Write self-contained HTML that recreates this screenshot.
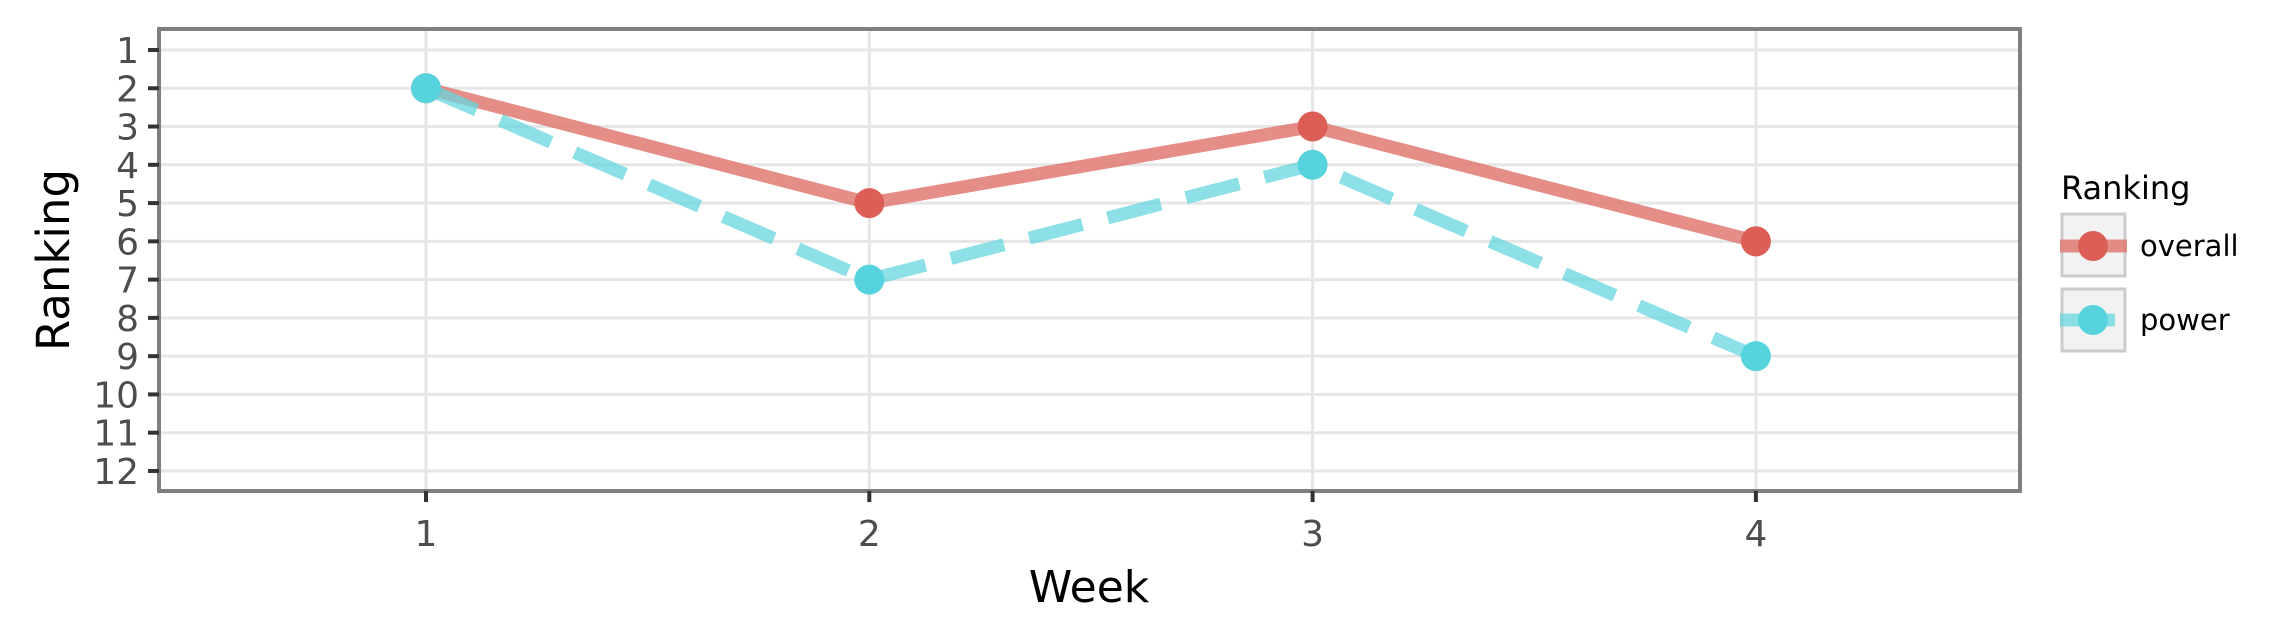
<!DOCTYPE html>
<html><head><meta charset="utf-8">
<style>
html,body{margin:0;padding:0;background:#fff;}
svg{display:block;font-family:"DejaVu Sans","Liberation Sans",sans-serif;}
</style></head>
<body>
<svg id="chart" width="2276" height="642" viewBox="0 0 2276 642" xmlns="http://www.w3.org/2000/svg">
<rect x="0" y="0" width="2276" height="642" fill="#fff"/>
<g id="grid"></g>
<g id="series"></g>
<rect x="159" y="29" width="1861" height="462" fill="none" stroke="#7f7f7f" stroke-width="4"/>
<g id="axes"></g>
<text x="1089" y="602" font-size="44" text-anchor="middle" fill="#000">Week</text>
<text transform="translate(69,260) rotate(-90)" font-size="45" text-anchor="middle" fill="#000">Ranking</text>
<g>
  <text x="2061" y="199" font-size="32" fill="#000">Ranking</text>
  <g>
    <rect x="2062" y="214" width="63" height="62" fill="#f2f2f2" stroke="#cccccc" stroke-width="3"/>
    <line x1="2060" y1="246" x2="2127" y2="246" stroke="#e07a73" stroke-opacity="0.85" stroke-width="13"/>
    <circle cx="2093" cy="246" r="15" fill="#dc5f57"/>
    <text x="2140" y="256" font-size="29" fill="#000">overall</text>
  </g>
  <g>
    <rect x="2062" y="289" width="63" height="62" fill="#f2f2f2" stroke="#cccccc" stroke-width="3"/>
    <line x1="2060" y1="320" x2="2115" y2="320" stroke="#66d6de" stroke-opacity="0.75" stroke-width="13"/>
    <circle cx="2093" cy="320" r="15" fill="#56d3dc"/>
    <text x="2140" y="330" font-size="29" fill="#000">power</text>
  </g>
</g>
</svg>
<script>
const weeks = [1, 2, 3, 4];
const overall = [2, 5, 3, 6];
const power = [2, 7, 4, 9];
const yTicks = [1,2,3,4,5,6,7,8,9,10,11,12];
const xTicks = [1,2,3,4];

const NS = "http://www.w3.org/2000/svg";
function xs(v){ return 426 + (v - 1) * 443.3; }
function ys(v){ return 50 + (v - 1) * 38.27; }
function mk(tag, attrs, parent){
  const e = document.createElementNS(NS, tag);
  for (const k in attrs) e.setAttribute(k, attrs[k]);
  parent.appendChild(e);
  return e;
}
const grid = document.getElementById('grid');
const axes = document.getElementById('axes');
const series = document.getElementById('series');

yTicks.forEach(t => {
  const g = mk('line', {x1:161, x2:2018, y1:ys(t), y2:ys(t), stroke:'#e6e6e6', 'stroke-width':3}, grid);
  
  
  const tk = mk('line', {x1:148, x2:159, y1:ys(t), y2:ys(t), stroke:'#333', 'stroke-width':4}, axes);
  
  
  const lb = mk('text', {x:139, y:ys(t)+13, 'font-size':36, 'text-anchor':'end', fill:'#4d4d4d'}, axes);
  
  
  lb.textContent = t;
});
xTicks.forEach(t => {
  const g = mk('line', {x1:xs(t), x2:xs(t), y1:31, y2:489, stroke:'#e6e6e6', 'stroke-width':3}, grid);
  
  
  const tk = mk('line', {x1:xs(t), x2:xs(t), y1:491, y2:502, stroke:'#333', 'stroke-width':4}, axes);
  
  
  const lb = mk('text', {x:xs(t), y:546, 'font-size':36, 'text-anchor':'middle', fill:'#4d4d4d'}, axes);
  
  
  lb.textContent = t;
});

function drawSeries(vals, name, lineColor, opacity, dash, ptColor){
  const pts = vals.map((v,i) => xs(weeks[i]) + ',' + ys(v)).join(' ');
  const attrs = {points:pts, fill:'none', stroke:lineColor, 'stroke-opacity':opacity, 'stroke-width':13};
  if (dash) attrs['stroke-dasharray'] = dash;
  const pl = mk('polyline', attrs, series);
  
  
  return () => vals.forEach((v,i) => {
    const c = mk('circle', {cx:xs(weeks[i]), cy:ys(v), r:15, fill:ptColor}, series);
    
    
  });
}
const p1 = drawSeries(overall, 'overall', '#e07a73', 0.85, null, '#dc5f57');
const p2 = drawSeries(power, 'power', '#66d6de', 0.75, '55 26', '#56d3dc');
p1(); p2();
</script>
</body></html>
